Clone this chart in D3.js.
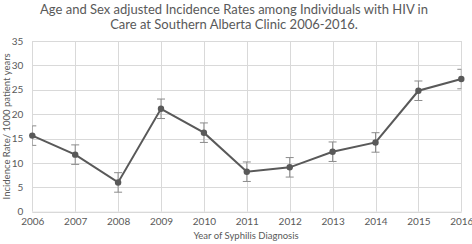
<!DOCTYPE html>
<html><head><meta charset="utf-8">
<script src="https://cdn.jsdelivr.net/npm/d3@7"></script>
<style>body{margin:0;background:#fff;} svg{display:block;}</style>
</head><body>
<svg id="c" width="472" height="244"></svg>
<script>
const years = [2006,2007,2008,2009,2010,2011,2012,2013,2014,2015,2016];
const rates = [15.6,11.7,6.0,21.1,16.2,8.2,9.1,12.3,14.2,24.8,27.2];
const errs  = [2.0,2.0,2.0,2.0,2.0,2.0,2.0,2.0,2.0,2.0,2.0];
const yTicks = [0,5,10,15,20,25,30,35];
const titleLines = ["Age and Sex adjusted Incidence Rates among Individuals with HIV in","Care at Southern Alberta Clinic 2006-2016."];
const xTitle = "Year of Syphilis Diagnosis";
const yTitle = "Incidence Rate/ 1000 patient years";

const svg = d3.select("#c");
const font = "Lato, 'Open Sans', sans-serif";
const x = d3.scaleLinear().domain([2006,2016]).range([32.3,461.3]);
const y = d3.scaleLinear().domain([0,35]).range([211.7,41]);

// title
svg.append("g").selectAll("text").data(titleLines).join("text")
  .attr("x",234).attr("y",(d,i)=>13.5+i*15).attr("text-anchor","middle")
  .attr("font-family",font).attr("font-size",13).attr("fill","#595959").text(d=>d);

// clip
svg.append("clipPath").attr("id","pc").append("rect")
  .attr("x",x(2006)).attr("y",y(35)).attr("width",x(2016)-x(2006)).attr("height",y(0)-y(35));

// grid
const grid = svg.append("g");
grid.selectAll(".h").data(yTicks).join("line")
  .attr("x1",x(2006)).attr("x2",x(2016)).attr("y1",d=>Math.round(y(d))+0.5).attr("y2",d=>Math.round(y(d))+0.5)
  .attr("stroke","#d9d9d9").attr("stroke-width",1);
grid.selectAll(".v").data(years).join("line")
  .attr("y1",y(0)).attr("y2",y(35)).attr("x1",d=>Math.round(x(d))+0.5).attr("x2",d=>Math.round(x(d))+0.5)
  .attr("stroke","#d9d9d9").attr("stroke-width",1);

// axes
const yAxis = d3.axisLeft(y).tickValues(yTicks).tickSize(0).tickPadding(9);
const gy = svg.append("g").attr("transform",`translate(${x(2006)},0)`).call(yAxis);
gy.select(".domain").remove();
gy.selectAll("text").attr("font-family",font).attr("font-size",10).attr("fill","#595959");

const xAxis = d3.axisBottom(x).tickValues(years).tickFormat(d3.format("d")).tickSize(0).tickPadding(6);
const gx = svg.append("g").attr("transform",`translate(0,${y(0)})`).call(xAxis);
gx.select(".domain").attr("stroke","#d9d9d9");
gx.selectAll("text").attr("font-family",font).attr("font-size",10).attr("fill","#595959");

// axis titles
svg.append("text").attr("x",246).attr("y",239).attr("text-anchor","middle")
  .attr("font-family",font).attr("font-size",9.5).attr("fill","#595959").text(xTitle);
svg.append("text").attr("transform",`translate(9.5,${(y(0)+y(35))/2}) rotate(-90)`).attr("text-anchor","middle")
  .attr("font-family",font).attr("font-size",9.5).attr("fill","#595959").text(yTitle);

const data = years.map((yr,i)=>({yr,v:rates[i],e:errs[i]}));
// error bars
const eb = svg.append("g").attr("clip-path","url(#pc)").attr("stroke","#8c8c8c").attr("stroke-width",1);
eb.selectAll(".ev").data(data).join("line")
  .attr("x1",d=>x(d.yr)).attr("x2",d=>x(d.yr)).attr("y1",d=>y(d.v-d.e)).attr("y2",d=>y(d.v+d.e));
eb.selectAll(".et").data(data).join("line")
  .attr("x1",d=>x(d.yr)-4).attr("x2",d=>x(d.yr)+4).attr("y1",d=>y(d.v+d.e)).attr("y2",d=>y(d.v+d.e));
eb.selectAll(".eb").data(data).join("line")
  .attr("x1",d=>x(d.yr)-4).attr("x2",d=>x(d.yr)+4).attr("y1",d=>y(d.v-d.e)).attr("y2",d=>y(d.v-d.e));

// line
svg.append("path").datum(data)
  .attr("d",d3.line().x(d=>x(d.yr)).y(d=>y(d.v)))
  .attr("fill","none").attr("stroke","#595959").attr("stroke-width",2);
svg.append("g").selectAll("circle").data(data).join("circle")
  .attr("cx",d=>x(d.yr)).attr("cy",d=>y(d.v)).attr("r",3.2).attr("fill","#595959");
</script>
</body></html>
